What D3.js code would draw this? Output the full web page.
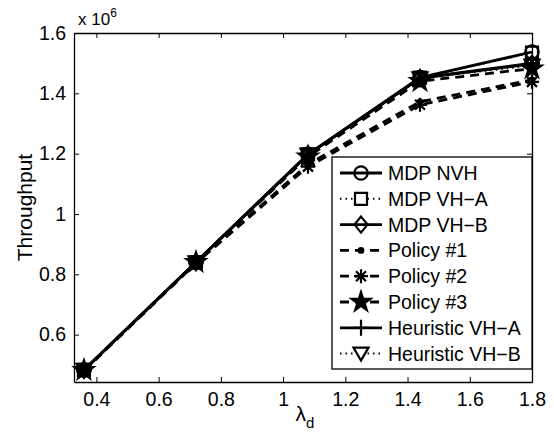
<!DOCTYPE html>
<html>
<head>
<meta charset="utf-8">
<script src="https://cdn.jsdelivr.net/npm/d3@7"></script>
<style>
  body { margin: 0; background: #fff; }
  svg text { font-family: "Liberation Sans", Arial, sans-serif; fill: #000; }
</style>
</head>
<body>
<div id="chart"></div>
<script>
const lambdaValues = [0.36, 0.72, 1.08, 1.44, 1.8];

const mdpNvh        = [0.483, 0.840, 1.198, 1.452, 1.537];
const mdpVhA        = [0.483, 0.840, 1.198, 1.452, 1.535];
const mdpVhB        = [0.483, 0.840, 1.197, 1.450, 1.498];
const policy1       = [0.481, 0.838, 1.165, 1.372, 1.445];
const policy2       = [0.480, 0.837, 1.157, 1.362, 1.438];
const policy3       = [0.482, 0.840, 1.190, 1.440, 1.482];
const heuristicVhA  = [0.483, 0.840, 1.197, 1.451, 1.500];
const heuristicVhB  = [0.483, 0.840, 1.197, 1.450, 1.492];

const seriesNames = ["MDP NVH", "MDP VH\u2212A", "MDP VH\u2212B", "Policy #1", "Policy #2",
                     "Policy #3", "Heuristic VH\u2212A", "Heuristic VH\u2212B"];
const xTicks = [0.4, 0.6, 0.8, 1, 1.2, 1.4, 1.6, 1.8];
const yTicks = [0.6, 0.8, 1, 1.2, 1.4, 1.6];

const series = [
    { name: seriesNames[0], values: mdpNvh,       dash: null,  marker: "circle" },
    { name: seriesNames[1], values: mdpVhA,       dash: "dot", marker: "square" },
    { name: seriesNames[2], values: mdpVhB,       dash: null,  marker: "diamond" },
    { name: seriesNames[3], values: policy1,      dash: "dash", marker: "point" },
    { name: seriesNames[4], values: policy2,      dash: "dash", marker: "asterisk" },
    { name: seriesNames[5], values: policy3,      dash: "dash", marker: "star" },
    { name: seriesNames[6], values: heuristicVhA, dash: null,  marker: "plus" },
    { name: seriesNames[7], values: heuristicVhB, dash: "dot", marker: "triangle" }
];

const width = 554, height = 439;
const padding = { top: 33, bottom: 57, left: 74, right: 22 };

const svg = d3.select("#chart")
    .append("svg")
    .attr("width", width)
    .attr("height", height);

const xScale = d3.scaleLinear().domain([0.328, 1.8]).range([padding.left, width - padding.right]);
const yScale = d3.scaleLinear().domain([0.443, 1.6]).range([height - padding.bottom, padding.top]);

// marker shapes
function markerPath(type) {
    switch (type) {
        case "circle": return d3.symbol(d3.symbolCircle, 140)();
        case "square": return "M-6,-6H6V6H-6Z";
        case "diamond": return "M0,-8L6.5,0L0,8L-6.5,0Z";
        case "point": return d3.symbol(d3.symbolCircle, 16)();
        case "asterisk": return "M0,-7V7M-7,0H7M-5,-5L5,5M-5,5L5,-5";
        case "star": return d3.symbol(d3.symbolStar, 110)();
        case "plus": return "M0,-8V8M-8,0H8";
        case "triangle": return "M-7.5,-6H7.5L0,7Z";
    }
}
const filled = { point: true, star: true };

function dashArray(d) {
    if (d === "dash") return "9,6";
    if (d === "dot") return "1.5,4";
    return null;
}

// axes box
const plot = svg.append("g");

const xAxisBottom = d3.axisBottom(xScale).tickValues(xTicks).tickSizeInner(-5).tickSizeOuter(0)
    .tickPadding(10).tickFormat(d3.format("~g"));
const xAxisTop = d3.axisTop(xScale).tickValues(xTicks).tickSizeInner(-5).tickSizeOuter(0).tickFormat("");
const yAxisLeft = d3.axisLeft(yScale).tickValues(yTicks).tickSizeInner(-5).tickSizeOuter(0)
    .tickPadding(8).tickFormat(d3.format("~g"));
const yAxisRight = d3.axisRight(yScale).tickValues(yTicks).tickSizeInner(-5).tickSizeOuter(0).tickFormat("");

const axisGroups = [
    plot.append("g").attr("transform", `translate(0,${height - padding.bottom})`).call(xAxisBottom),
    plot.append("g").attr("transform", `translate(0,${padding.top})`).call(xAxisTop),
    plot.append("g").attr("transform", `translate(${padding.left},0)`).call(yAxisLeft),
    plot.append("g").attr("transform", `translate(${width - padding.right},0)`).call(yAxisRight)
];
axisGroups.forEach(g => {
    g.selectAll("path").attr("stroke", "#000").attr("stroke-width", 1.3);
    g.selectAll("line").attr("stroke", "#000").attr("stroke-width", 1);
    g.selectAll("text").attr("font-size", 19.5).attr("font-family", "Liberation Sans, Arial, sans-serif");
});

// lines
const line = d3.line()
    .x((d, i) => xScale(lambdaValues[i]))
    .y(d => yScale(d));

const seriesGroup = svg.append("g");
series.forEach(s => {
    seriesGroup.append("path")
        .datum(s.values)
        .attr("d", line)
        .attr("fill", "none")
        .attr("stroke", "#000")
        .attr("stroke-width", s.dash === "dot" ? 2 : 2.8)
        .attr("stroke-dasharray", dashArray(s.dash));
    seriesGroup.selectAll(null)
        .data(s.values)
        .enter()
        .append("path")
        .attr("transform", (d, i) => `translate(${xScale(lambdaValues[i])},${yScale(d)})`)
        .attr("d", markerPath(s.marker))
        .attr("fill", filled[s.marker] ? "#000" : "none")
        .attr("stroke", "#000")
        .attr("stroke-width", 2.2);
});

// exponent label
const expo = svg.append("text").attr("x", 78).attr("y", 25).attr("font-size", 17);
expo.append("tspan").text("x 10");
expo.append("tspan").attr("dy", -8).attr("font-size", 12).text("6");

// axis titles
svg.append("text")
    .attr("transform", `translate(32,${(padding.top + height - padding.bottom) / 2}) rotate(-90)`)
    .attr("text-anchor", "middle")
    .attr("font-size", 21)
    .text("Throughput");

const xTitle = svg.append("text")
    .attr("x", xScale(1.07))
    .attr("y", 421)
    .attr("text-anchor", "middle")
    .attr("font-size", 21);
xTitle.append("tspan").text("\u03bb");
xTitle.append("tspan").attr("dy", 7).attr("font-size", 15).text("d");

// legend
const legendX = 332, legendY = 157, legendW = 200, legendH = 212, rowH = 25.8;
const legend = svg.append("g");
legend.append("rect")
    .attr("x", legendX).attr("y", legendY)
    .attr("width", legendW).attr("height", legendH)
    .attr("fill", "#fff").attr("stroke", "#000").attr("stroke-width", 1.3);

const rows = legend.selectAll("g.row")
    .data(series)
    .enter()
    .append("g")
    .attr("transform", (d, i) => `translate(0,${legendY + 16 + i * rowH})`);

rows.append("line")
    .attr("x1", 340).attr("x2", 382)
    .attr("stroke", "#000")
    .attr("stroke-width", d => d.dash === "dot" ? 2 : 2.8)
    .attr("stroke-dasharray", d => dashArray(d.dash));
rows.append("path")
    .attr("transform", "translate(361,0)")
    .attr("d", d => markerPath(d.marker))
    .attr("fill", d => filled[d.marker] ? "#000" : (d.dash === "dot" ? "#fff" : "none"))
    .attr("stroke", "#000")
    .attr("stroke-width", 2.2);
rows.append("text")
    .attr("x", 388)
    .attr("y", 7)
    .attr("font-size", 19.5)
    .text(d => d.name);
</script>
</body>
</html>
